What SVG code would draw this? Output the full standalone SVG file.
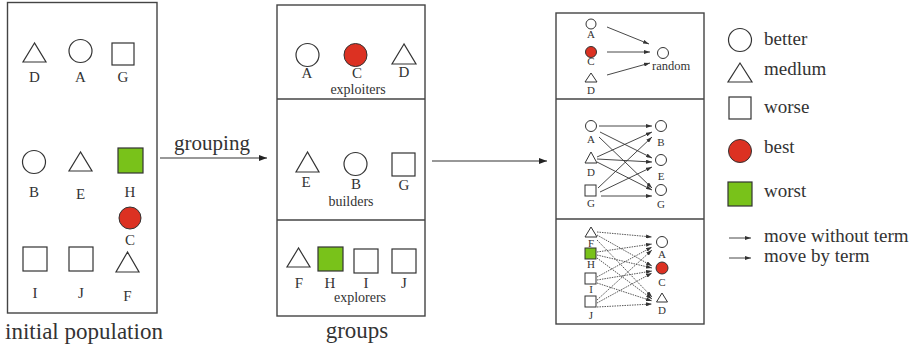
<svg xmlns="http://www.w3.org/2000/svg" width="922" height="351" viewBox="0 0 922 351" font-family="'Liberation Serif', 'DejaVu Serif', serif">
  <defs>
    <style>
      text { font-family: "Liberation Serif", "DejaVu Serif", serif; fill: #333; text-anchor: middle; }
      .panel { fill: #fff; stroke: #444; stroke-width: 1.4; }
      .div { stroke: #444; stroke-width: 1.4; }
      .sh { fill: #fff; stroke: #333; stroke-width: 1.2; }
      .sm { fill: #fff; stroke: #333; stroke-width: 1; }
      .best { fill: #dc3122; stroke: #333; stroke-width: 1; }
      .worst { fill: #79c21a; stroke: #333; stroke-width: 1.2; }
      .lab { font-size: 15px; }
      .grp { font-size: 14px; }
      .tiny { font-size: 11px; }
      .cap { font-size: 23px; }
      .leg { font-size: 19px; text-anchor: start; }
      .arr { stroke: #333; stroke-width: 1.2; fill: none; }
      .mv { stroke: #333; stroke-width: 0.9; fill: none; }
      .dot { stroke: #444; stroke-width: 0.9; fill: none; stroke-dasharray: 1.5 1; }
    </style>
    <marker id="ah" viewBox="0 0 8 6" refX="8" refY="3" markerWidth="8" markerHeight="6" markerUnits="userSpaceOnUse" orient="auto">
      <path d="M0,0 L8,3 L0,6 Z" fill="#222"/>
    </marker>
    <marker id="ahs" viewBox="0 0 6 4" refX="6" refY="2" markerWidth="6" markerHeight="4" markerUnits="userSpaceOnUse" orient="auto">
      <path d="M0,0 L6,2 L0,4 Z" fill="#333"/>
    </marker>
  </defs>

  <!-- initial population -->
  <g id="panel-initial">
    <rect class="panel" x="7.5" y="2.5" width="149.5" height="310.5"/>
    <polygon class="sh" points="34.5,43 23,62 46,62"/>
    <text class="lab" x="34.5" y="82">D</text>
    <circle class="sh" cx="80.5" cy="51" r="11.5"/>
    <text class="lab" x="80.5" y="82">A</text>
    <rect class="sh" x="112" y="43" width="22" height="22"/>
    <text class="lab" x="123" y="82">G</text>
    <circle class="sh" cx="34" cy="162" r="11.5"/>
    <text class="lab" x="34" y="197">B</text>
    <polygon class="sh" points="80.5,152 69,171 92,171"/>
    <text class="lab" x="80.5" y="199">E</text>
    <rect class="worst" x="118" y="148" width="25" height="25"/>
    <text class="lab" x="130" y="197">H</text>
    <circle class="best" cx="130" cy="218" r="11"/>
    <text class="lab" x="130" y="245">C</text>
    <rect class="sh" x="23" y="247" width="24" height="24"/>
    <text class="lab" x="35" y="298">I</text>
    <rect class="sh" x="69" y="247" width="24" height="24"/>
    <text class="lab" x="81" y="298">J</text>
    <polygon class="sh" points="127.5,252 116,272 139,272"/>
    <text class="lab" x="127.5" y="301">F</text>
    <text class="cap" x="84" y="339">initial population</text>
  </g>

  <!-- groups -->
  <g id="panel-groups">
    <rect class="panel" x="277" y="5" width="148" height="311"/>
    <line class="div" x1="277" y1="99" x2="425" y2="99"/>
    <line class="div" x1="277" y1="220" x2="425" y2="220"/>
    <circle class="sh" cx="307.5" cy="55" r="11.5"/>
    <text class="lab" x="307" y="78">A</text>
    <circle class="best" cx="355.5" cy="55" r="11.5"/>
    <text class="lab" x="357" y="78">C</text>
    <polygon class="sh" points="404,44 392,64 416,64"/>
    <text class="lab" x="404" y="77">D</text>
    <text class="grp" x="358" y="94">exploiters</text>
    <polygon class="sh" points="307.5,152 296,172 319,172"/>
    <text class="lab" x="306" y="187">E</text>
    <circle class="sh" cx="355.5" cy="164" r="11.5"/>
    <text class="lab" x="356" y="189">B</text>
    <rect class="sh" x="392" y="153" width="23" height="23"/>
    <text class="lab" x="404" y="190">G</text>
    <text class="grp" x="351" y="206">builders</text>
    <polygon class="sh" points="298.5,248 287,267 310,267"/>
    <text class="lab" x="299" y="288">F</text>
    <rect class="worst" x="318" y="247" width="25" height="24"/>
    <text class="lab" x="330" y="288">H</text>
    <rect class="sh" x="354" y="249" width="24" height="24"/>
    <text class="lab" x="366" y="288">I</text>
    <rect class="sh" x="392" y="249" width="24" height="24"/>
    <text class="lab" x="404" y="288">J</text>
    <text class="grp" x="360" y="302">explorers</text>
    <text class="cap" x="357" y="338">groups</text>
  </g>

  <!-- moves inside each group -->
  <g id="panel-moves">
    <rect class="panel" x="556" y="13" width="148" height="311"/>
    <line class="div" x1="556" y1="99" x2="704" y2="99"/>
    <line class="div" x1="556" y1="219" x2="704" y2="219"/>
  </g>

  <g id="exploiters-moves">
    <circle class="sm" cx="591" cy="24" r="5"/>
    <text class="tiny" x="591" y="38">A</text>
    <circle class="best" cx="591" cy="52" r="5.5"/>
    <text class="tiny" x="591" y="65">C</text>
    <polygon class="sm" points="591,73 585,82 597,82"/>
    <text class="tiny" x="591" y="94">D</text>
    <circle class="sm" cx="663" cy="53" r="5.5"/>
    <text class="tiny" x="652" y="70" style="text-anchor:start;font-size:12.5px">random</text>
  </g>

  <g id="builders-moves">
    <circle class="sm" cx="591" cy="126" r="5.5"/>
    <text class="tiny" x="591" y="143">A</text>
    <polygon class="sm" points="591,152 585,163 597,163"/>
    <text class="tiny" x="591" y="176">D</text>
    <rect class="sm" x="585" y="185" width="11" height="11"/>
    <text class="tiny" x="591" y="207">G</text>
    <circle class="sm" cx="661" cy="126" r="5.5"/>
    <text class="tiny" x="661" y="146">B</text>
    <circle class="sm" cx="661" cy="160" r="5.5"/>
    <text class="tiny" x="661" y="180">E</text>
    <circle class="sm" cx="661" cy="190" r="5.5"/>
    <text class="tiny" x="661" y="208">G</text>
  </g>

  <g id="explorers-moves">
    <polygon class="sm" points="591,227 585,237 597,237"/>
    <text class="tiny" x="591" y="247">F</text>
    <rect class="worst" x="585" y="248" width="11" height="11" style="stroke-width:1"/>
    <text class="tiny" x="591" y="268">H</text>
    <rect class="sm" x="585" y="273" width="11" height="11"/>
    <text class="tiny" x="591" y="293">I</text>
    <rect class="sm" x="585" y="296" width="11" height="11"/>
    <text class="tiny" x="591" y="319">J</text>
    <circle class="sm" cx="662" cy="242" r="5.5"/>
    <text class="tiny" x="662" y="258">A</text>
    <circle class="best" cx="662" cy="268" r="6"/>
    <text class="tiny" x="662" y="286">C</text>
    <polygon class="sm" points="662,293 656.5,302 667.5,302"/>
    <text class="tiny" x="662" y="314">D</text>
  </g>

  <!-- legend -->
  <g id="legend">
    <circle class="sh" cx="740" cy="40" r="11.5"/>
    <text class="leg" x="764" y="45">better</text>
    <polygon class="sh" points="740,63 728,82 752,82"/>
    <text class="leg" x="764" y="75">medlum</text>
    <rect class="sh" x="729" y="97" width="22" height="22"/>
    <text class="leg" x="764" y="113">worse</text>
    <circle class="best" cx="740" cy="151" r="11.5"/>
    <text class="leg" x="764" y="153">best</text>
    <rect class="worst" x="728" y="182" width="24" height="24"/>
    <text class="leg" x="764" y="197">worst</text>
    <line class="mv" x1="729" y1="238" x2="751" y2="238" marker-end="url(#ahs)"/>
    <text class="leg" x="764" y="242">move without term</text>
    <line class="mv" x1="729" y1="258" x2="751" y2="258" marker-end="url(#ahs)"/>
    <text class="leg" x="764" y="262">move by term</text>
  </g>

  <!-- connectors -->
  <g id="connectors">
    <line class="arr" x1="160" y1="158" x2="267" y2="158" marker-end="url(#ah)"/>
    <text x="212" y="150" style="font-size:21px">grouping</text>
    <line class="arr" x1="432" y1="161" x2="547" y2="161" marker-end="url(#ah)"/>

    <line class="mv" x1="607" y1="27" x2="649" y2="44" marker-end="url(#ahs)"/>
    <line class="mv" x1="607" y1="52" x2="650" y2="52" marker-end="url(#ahs)"/>
    <line class="mv" x1="607" y1="75" x2="650" y2="63" marker-end="url(#ahs)"/>

    <line class="mv" x1="599" y1="126" x2="652" y2="126" marker-end="url(#ahs)"/>
    <line class="mv" x1="600" y1="132" x2="652" y2="158" marker-end="url(#ahs)"/>
    <line class="mv" x1="599" y1="137" x2="652" y2="188" marker-end="url(#ahs)"/>
    <line class="mv" x1="597" y1="157" x2="652" y2="132" marker-end="url(#ahs)"/>
    <line class="mv" x1="597" y1="159" x2="652" y2="162" marker-end="url(#ahs)"/>
    <line class="mv" x1="597" y1="162" x2="652" y2="190" marker-end="url(#ahs)"/>
    <line class="mv" x1="598" y1="188" x2="652" y2="137" marker-end="url(#ahs)"/>
    <line class="mv" x1="600" y1="192" x2="652" y2="167" marker-end="url(#ahs)"/>
    <line class="mv" x1="601" y1="196" x2="652" y2="196" marker-end="url(#ahs)"/>

    <line class="dot" x1="597" y1="232" x2="652" y2="237" marker-end="url(#ahs)"/>
    <line class="dot" x1="597" y1="235" x2="652" y2="266" marker-end="url(#ahs)"/>
    <line class="dot" x1="597" y1="240" x2="652" y2="297" marker-end="url(#ahs)"/>
    <line class="dot" x1="597" y1="252" x2="652" y2="244" marker-end="url(#ahs)"/>
    <line class="dot" x1="597" y1="255" x2="652" y2="268" marker-end="url(#ahs)"/>
    <line class="dot" x1="597" y1="258" x2="652" y2="299" marker-end="url(#ahs)"/>
    <line class="dot" x1="597" y1="277" x2="652" y2="247" marker-end="url(#ahs)"/>
    <line class="dot" x1="597" y1="280" x2="652" y2="271" marker-end="url(#ahs)"/>
    <line class="dot" x1="597" y1="283" x2="652" y2="301" marker-end="url(#ahs)"/>
    <line class="dot" x1="597" y1="300" x2="652" y2="250" marker-end="url(#ahs)"/>
    <line class="dot" x1="597" y1="303" x2="652" y2="273" marker-end="url(#ahs)"/>
    <line class="dot" x1="597" y1="307" x2="652" y2="304" marker-end="url(#ahs)"/>
  </g>
</svg>
